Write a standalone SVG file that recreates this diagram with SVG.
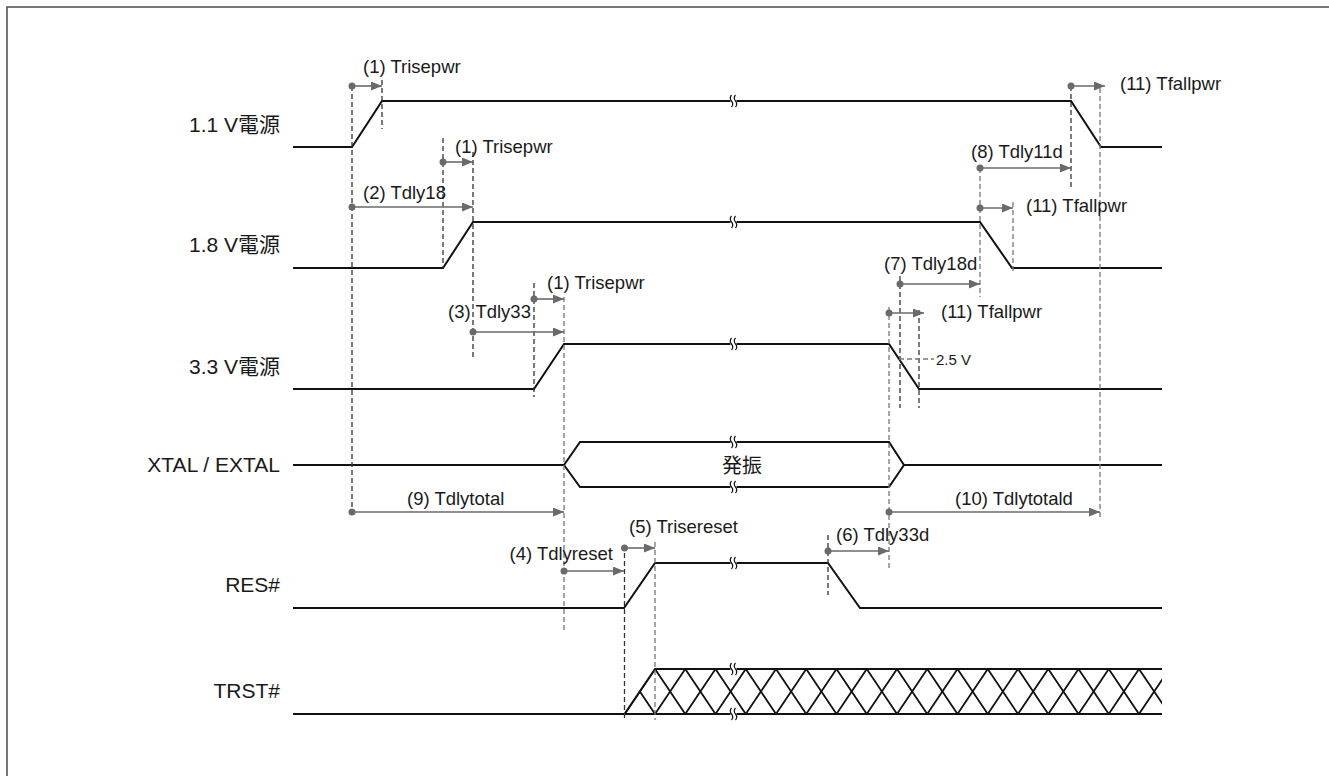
<svg xmlns="http://www.w3.org/2000/svg" width="1329" height="776" viewBox="0 0 1329 776">
<defs>
<style>
text{font-family:"Liberation Sans",Arial,"Noto Sans CJK JP",sans-serif;fill:#1a1a1a}
.lbl{font-size:21px;text-anchor:end}
.ann{font-size:18.5px}
.sig{fill:none;stroke:#111;stroke-width:2;stroke-linejoin:miter}
.hatch{fill:none;stroke:#111;stroke-width:1.8}
.dk{stroke:#333;stroke-width:1.3;stroke-dasharray:5 3;fill:none}
.gy{stroke:#777;stroke-width:1.3;stroke-dasharray:5 3;fill:none}
.arr{stroke:#6a6a6a;stroke-width:1.6;fill:none;marker-end:url(#ah)}
.dot{fill:#6a6a6a}
.brk path{fill:none;stroke:#111;stroke-width:1.2}
</style>
<marker id="ah" markerUnits="userSpaceOnUse" markerWidth="12" markerHeight="10" refX="11" refY="4.5" orient="auto">
<path d="M0,0 L11,4.5 L0,9 z" fill="#6a6a6a"/>
</marker>
<g id="brk" class="brk">
<rect x="-2.5" y="-2" width="6" height="4" fill="#fff"/>
<path d="M-1.5,-6 q-2.5,3 0,6 q2.5,3 0,6"/>
<path d="M2.5,-6 q-2.5,3 0,6 q2.5,3 0,6"/>
</g>
<clipPath id="trclip"><polygon points="624.5,714 655,669 1162,669 1162,714"/></clipPath>
</defs>
<rect width="1329" height="776" fill="#fff"/>
<rect x="7" y="7" width="1345" height="800" fill="none" stroke="#4a4a4a" stroke-width="1.5"/>

<g id="labels">
<text class="lbl" x="280" y="132">1.1 V電源</text>
<text class="lbl" x="280" y="252">1.8 V電源</text>
<text class="lbl" x="280" y="374">3.3 V電源</text>
<text class="lbl" x="280" y="472">XTAL / EXTAL</text>
<text class="lbl" x="280" y="592">RES#</text>
<text class="lbl" x="280" y="698">TRST#</text>
</g>

<g id="sig-11">
<polyline class="sig" points="293,147 352,147 382,101 1071,101 1101,147 1162,147"/>
<use href="#brk" x="733" y="101"/>
</g>
<g id="sig-18">
<polyline class="sig" points="293,268 443,268 473,222 980,222 1012,268 1162,268"/>
<use href="#brk" x="733" y="222"/>
</g>
<g id="sig-33">
<polyline class="sig" points="293,389 534,389 564,344 889,344 919,389 1162,389"/>
<use href="#brk" x="733" y="344"/>
</g>
<g id="sig-xtal">
<polyline class="sig" points="293,465 564,465 580,442 889,442 904,465 1162,465"/>
<polyline class="sig" points="564,465 580,487 889,487 904,465"/>
<use href="#brk" x="733" y="442"/>
<use href="#brk" x="733" y="487"/>
<text x="742" y="473" style="font-size:20px;text-anchor:middle">発振</text>
</g>
<g id="sig-res">
<polyline class="sig" points="293,608 624,608 655,563 828,563 860,608 1162,608"/>
<use href="#brk" x="733" y="563"/>
</g>
<g id="sig-trst">
<g clip-path="url(#trclip)">
<path class="hatch" d="M624.75,669 L655,714 L685.25,669 L715.5,714 L745.75,669 L776,714 L806.25,669 L836.5,714 L866.75,669 L897,714 L927.25,669 L957.5,714 L987.75,669 L1018,714 L1048.25,669 L1078.5,714 L1108.75,669 L1139,714 L1169.25,669"/>
<path class="hatch" d="M624.75,714 L655,669 L685.25,714 L715.5,669 L745.75,714 L776,669 L806.25,714 L836.5,669 L866.75,714 L897,669 L927.25,714 L957.5,669 L987.75,714 L1018,669 L1048.25,714 L1078.5,669 L1108.75,714 L1139,669 L1169.25,714"/>
</g>
<polyline class="sig" points="293,714 1162,714"/>
<polyline class="sig" points="624.5,714 655,669 1162,669"/>
<use href="#brk" x="733" y="669"/>
<use href="#brk" x="733" y="714"/>
</g>

<g id="connectors">
<line class="dk" x1="352" y1="86" x2="352" y2="516"/>
<line class="dk" x1="382" y1="80" x2="382" y2="129"/>
<line class="dk" x1="443" y1="138" x2="443" y2="268"/>
<line class="dk" x1="473" y1="152" x2="473" y2="360"/>
<line class="dk" x1="534" y1="283" x2="534" y2="397"/>
<line class="gy" x1="564" y1="297" x2="564" y2="630"/>
<line class="dk" x1="624.5" y1="545" x2="624.5" y2="720"/>
<line class="gy" x1="655" y1="542" x2="655" y2="720"/>
<line class="dk" x1="828" y1="535" x2="828" y2="595"/>
<line class="gy" x1="889" y1="307" x2="889" y2="570"/>
<line class="dk" x1="900" y1="276" x2="900" y2="408"/>
<line class="dk" x1="919" y1="310" x2="919" y2="408"/>
<line class="gy" x1="980" y1="168" x2="980" y2="297"/>
<line class="gy" x1="1013" y1="202" x2="1013" y2="272"/>
<line class="dk" x1="1071" y1="86" x2="1071" y2="190"/>
<line class="gy" x1="1100" y1="88" x2="1100" y2="520"/>
<line class="gy" x1="899" y1="359" x2="934" y2="359"/>

<line class="arr" x1="352" y1="86" x2="382" y2="86"/><circle class="dot" cx="352" cy="86" r="3.5"/>
<line class="arr" x1="443" y1="162" x2="473" y2="162"/><circle class="dot" cx="443" cy="162" r="3.5"/>
<line class="arr" x1="352" y1="207" x2="473" y2="207"/><circle class="dot" cx="352" cy="207" r="3.5"/>
<line class="arr" x1="534" y1="299" x2="564" y2="299"/><circle class="dot" cx="534" cy="299" r="3.5"/>
<line class="arr" x1="473" y1="332" x2="564" y2="332"/><circle class="dot" cx="473" cy="332" r="3.5"/>
<line class="arr" x1="352" y1="512" x2="564" y2="512"/><circle class="dot" cx="352" cy="512" r="3.5"/>
<line class="arr" x1="564" y1="571" x2="624" y2="571"/><circle class="dot" cx="564" cy="571" r="3.5"/>
<line class="arr" x1="624.5" y1="548" x2="655" y2="548"/><circle class="dot" cx="624.5" cy="548" r="3.5"/>
<line class="arr" x1="828" y1="551" x2="889" y2="551"/><circle class="dot" cx="828" cy="551" r="3.5"/>
<line class="arr" x1="889" y1="512" x2="1100" y2="512"/><circle class="dot" cx="889" cy="512" r="3.5"/>
<line class="arr" x1="889" y1="313" x2="924" y2="313"/><circle class="dot" cx="889" cy="313" r="3.5"/>
<line class="arr" x1="900" y1="284" x2="980" y2="284"/><circle class="dot" cx="900" cy="284" r="3.5"/>
<line class="arr" x1="980" y1="168" x2="1071" y2="168"/><circle class="dot" cx="980" cy="168" r="3.5"/>
<line class="arr" x1="980" y1="208" x2="1013" y2="208"/><circle class="dot" cx="980" cy="208" r="3.5"/>
<line class="arr" x1="1071" y1="86" x2="1105" y2="86"/><circle class="dot" cx="1071" cy="86" r="3.5"/>
</g>

<g id="annotations">
<text class="ann" x="363" y="73">(1) Trisepwr</text>
<text class="ann" x="455" y="153">(1) Trisepwr</text>
<text class="ann" x="363" y="199">(2) Tdly18</text>
<text class="ann" x="547" y="289">(1) Trisepwr</text>
<text class="ann" x="448" y="318">(3) Tdly33</text>
<text class="ann" x="407" y="505">(9) Tdlytotal</text>
<text class="ann" x="613" y="560" style="text-anchor:end">(4) Tdlyreset</text>
<text class="ann" x="629" y="533">(5) Trisereset</text>
<text class="ann" x="836" y="541">(6) Tdly33d</text>
<text class="ann" x="955" y="505">(10) Tdlytotald</text>
<text class="ann" x="941" y="318">(11) Tfallpwr</text>
<text class="ann" x="884" y="270">(7) Tdly18d</text>
<text class="ann" x="971" y="158">(8) Tdly11d</text>
<text class="ann" x="1026" y="212">(11) Tfallpwr</text>
<text class="ann" x="1120" y="90">(11) Tfallpwr</text>
<text x="936" y="365" style="font-size:15px">2.5 V</text>
</g>
</svg>
